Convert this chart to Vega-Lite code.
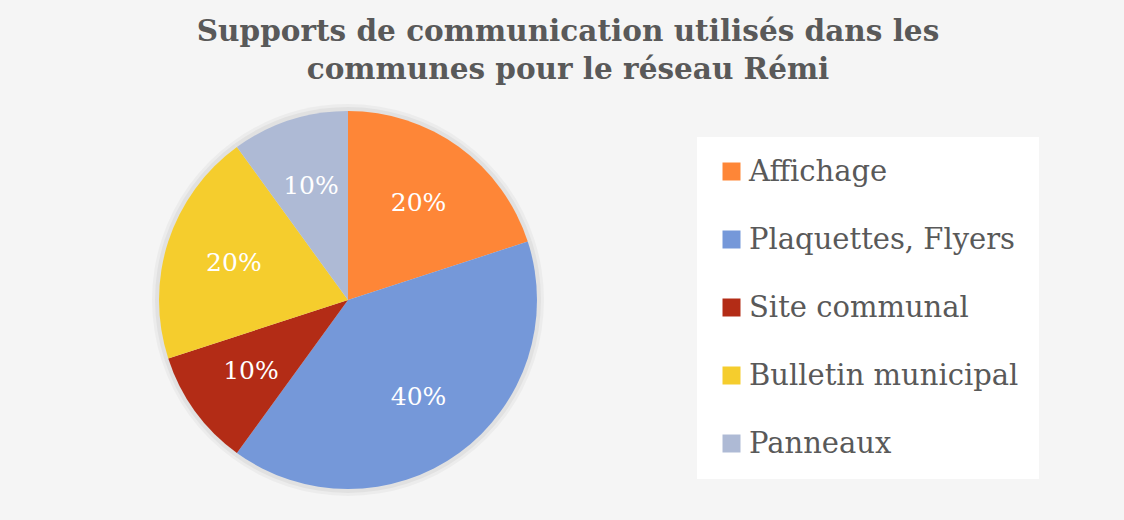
{
  "$schema": "https://vega.github.io/schema/vega-lite/v6.json",
  "autosize": {"type": "none"},
  "width": 696,
  "height": 440,
  "padding": {"left": 0, "top": 80, "right": 428, "bottom": 0},
  "background": "#f5f5f5",
  "title": {
    "text": ["Supports de communication utilisés dans les", "communes pour le réseau Rémi"],
    "font": "DejaVu Serif",
    "fontSize": 29.5,
    "fontWeight": "bold",
    "color": "#595959",
    "anchor": "middle",
    "dx": 220,
    "dy": 5,
    "lineHeight": 38,
    "offset": 0
  },
  "data": {
    "values": [
      {"support": "Affichage", "rang": 1, "part": 0.2},
      {"support": "Plaquettes, Flyers", "rang": 2, "part": 0.4},
      {"support": "Site communal", "rang": 3, "part": 0.1},
      {"support": "Bulletin municipal", "rang": 4, "part": 0.2},
      {"support": "Panneaux", "rang": 5, "part": 0.1}
    ]
  },
  "encoding": {
    "theta": {"field": "part", "type": "quantitative", "stack": true},
    "order": {"field": "rang", "type": "quantitative", "sort": "ascending"},
    "color": {
      "field": "support",
      "type": "nominal",
      "sort": ["Affichage", "Plaquettes, Flyers", "Site communal", "Bulletin municipal", "Panneaux"],
      "scale": {
        "domain": ["Affichage", "Plaquettes, Flyers", "Site communal", "Bulletin municipal", "Panneaux"],
        "range": ["#fe8637", "#7598d9", "#b32c16", "#f5cd2d", "#aebad5"]
      },
      "legend": {
        "title": null,
        "orient": "none",
        "legendX": 697,
        "legendY": 57,
        "symbolType": "square",
        "symbolSize": 324,
        "symbolStrokeWidth": 0,
        "labelFont": "DejaVu Serif",
        "labelFontSize": 29,
        "labelColor": "#595959",
        "labelOffset": 3,
        "labelLimit": 400,
        "rowPadding": 38,
        "padding": 20,
        "fillColor": "#ffffff"
      }
    }
  },
  "layer": [
    {
      "mark": {"type": "arc", "outerRadius": 196, "opacity": 0.035},
      "encoding": {"color": {"value": "#000000"}}
    },
    {
      "mark": {"type": "arc", "outerRadius": 193, "opacity": 0.045},
      "encoding": {"color": {"value": "#000000"}}
    },
    {"mark": {"type": "arc", "outerRadius": 189}},
    {
      "mark": {"type": "text", "radius": 120, "font": "DejaVu Serif", "fontSize": 25},
      "encoding": {
        "text": {"field": "part", "type": "quantitative", "format": ".0%"},
        "fill": {"value": "#ffffff"}
      }
    }
  ],
  "config": {"view": {"stroke": null}}
}
